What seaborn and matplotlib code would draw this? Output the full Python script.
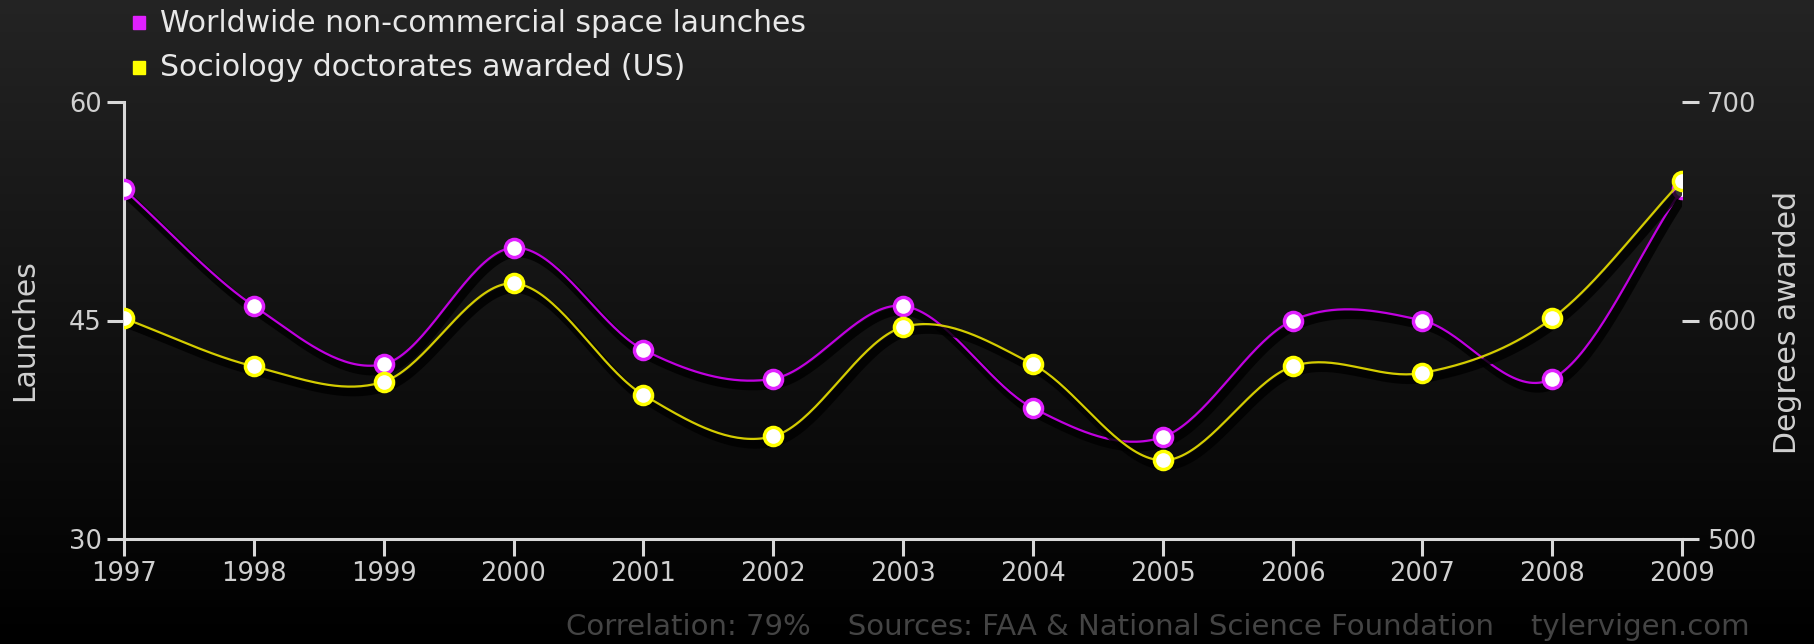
import numpy as np
import pandas as pd
import matplotlib
matplotlib.use("Agg")
import matplotlib.pyplot as plt
import matplotlib.patheffects as pe
import seaborn as sns

years = [1997, 1998, 1999, 2000, 2001, 2002, 2003, 2004, 2005, 2006, 2007, 2008, 2009]
launches = [54, 46, 42, 50, 43, 41, 46, 39, 37, 45, 45, 41, 54]
doctorates = [601, 579, 572, 617, 566, 547, 597, 580, 536, 579, 576, 601, 664]
left_ticks = [30, 45, 60]
right_ticks = [500, 600, 700]
series_names = ["Worldwide non-commercial space launches", "Sociology doctorates awarded (US)"]
footer = "Correlation: 79%    Sources: FAA & National Science Foundation    tylervigen.com"

MAG_LINE = "#c000e0"
MAG_MARK = "#e020ff"
YEL_LINE = "#d4cc00"
YEL_MARK = "#ffff00"
TXT = "#d0d0d0"
AX = "#d8d8d8"


def catmull_rom(x, y, n=40):
    x = np.asarray(x, float)
    y = np.asarray(y, float)
    px = np.concatenate([[2 * x[0] - x[1]], x, [2 * x[-1] - x[-2]]])
    py = np.concatenate([[2 * y[0] - y[1]], y, [2 * y[-1] - y[-2]]])
    xs, ys = [], []
    t = np.linspace(0, 1, n, endpoint=False)
    for i in range(1, len(px) - 2):
        for P, out in ((px, xs), (py, ys)):
            p0, p1, p2, p3 = P[i - 1], P[i], P[i + 1], P[i + 2]
            out.extend(0.5 * ((2 * p1) + (-p0 + p2) * t + (2 * p0 - 5 * p1 + 4 * p2 - p3) * t ** 2
                              + (-p0 + 3 * p1 - 3 * p2 + p3) * t ** 3))
    xs.append(x[-1])
    ys.append(y[-1])
    return np.array(xs), np.array(ys)


sns.set_theme(style="dark")
plt.rcParams["font.family"] = ["DejaVu Sans"]

W, H = 1815, 644
fig = plt.figure(figsize=(W / 100, H / 100), dpi=100)

# background gradient
bg = fig.add_axes([0, 0, 1, 1], zorder=-10)
grad = np.linspace(0.14, 0.0, 256).reshape(-1, 1)
bg.imshow(np.dstack([grad, grad, grad]), aspect="auto", extent=[0, 1, 0, 1], origin="upper")
bg.set_axis_off()

left = 124 / W
right = 1682 / W
bottom = (H - 539) / H
top = (H - 102) / H
ax = fig.add_axes([left, bottom, right - left, top - bottom])
ax2 = ax.twinx()
for a in (ax, ax2):
    a.set_facecolor("none")
    a.grid(False)
    for s in a.spines.values():
        s.set_visible(False)

shadow = [pe.SimpleLineShadow(offset=(2, -4), shadow_color="black", alpha=0.8, linewidth=6), pe.Normal()]

lx, ly = catmull_rom(years, launches)
dx, dy = catmull_rom(years, doctorates)

ax.plot(lx, ly, color=MAG_LINE, lw=1.6, path_effects=shadow, zorder=3)
ax2.plot(dx, dy, color=YEL_LINE, lw=1.6, path_effects=shadow, zorder=3)

df_l = pd.DataFrame({"year": years, "value": launches})
df_d = pd.DataFrame({"year": years, "value": doctorates})
sns.scatterplot(data=df_l, x="year", y="value", ax=ax, s=170, color="white",
                edgecolor=MAG_MARK, linewidth=2.5, zorder=5, legend=False)
sns.scatterplot(data=df_d, x="year", y="value", ax=ax2, s=170, color="white",
                edgecolor=YEL_MARK, linewidth=2.5, zorder=5, legend=False)

ax.set_xlim(years[0], years[-1])
ax.set_ylim(30, 60)
ax2.set_ylim(500, 700)
ax.set_xticks(years)
ax.set_xticklabels([str(y) for y in years])
ax.set_yticks(left_ticks)
ax2.set_yticks(right_ticks)

ax.spines["left"].set_visible(True)
ax.spines["bottom"].set_visible(True)
ax.spines["left"].set_color(AX)
ax.spines["bottom"].set_color(AX)
ax.spines["left"].set_linewidth(2.2)
ax.spines["bottom"].set_linewidth(2.2)

ax.tick_params(axis="x", direction="out", length=12, width=2.2, color=AX, labelcolor=TXT,
               labelsize=18.5, pad=4, bottom=True)
ax.tick_params(axis="y", direction="out", length=12, width=2.2, color=AX, labelcolor=TXT,
               labelsize=18.5, pad=4, left=True)
ax2.tick_params(axis="y", direction="out", length=12, width=2.2, color=AX, labelcolor=TXT,
                labelsize=18.5, pad=6, right=True)

ax.set_xlabel("")
ax.set_ylabel("")
ax2.set_ylabel("")
fig.text(25 / W, 1 - 330 / H, "Launches", rotation=90, color=TXT, fontsize=21.5,
         ha="center", va="center")
fig.text(1788 / W, 1 - 322 / H, "Degrees awarded", rotation=90, color=TXT, fontsize=21.5,
         ha="center", va="center")

# legend
for i, (name, col) in enumerate(zip(series_names, [MAG_MARK, YEL_MARK])):
    yy = 1 - (23 + 45 * i) / H
    fig.patches.append(plt.Rectangle((133 / W, yy - 6 / H), 12 / W, 13 / H, color=col,
                                     transform=fig.transFigure, figure=fig))
    fig.text(160 / W, yy, name, color="#e8e8e8", fontsize=21.5, ha="left", va="center")

fig.text(1750 / W, 1 - 627 / H, footer, color="#444444", fontsize=21, ha="right", va="center")

fig.savefig("out.png", dpi=100, facecolor="black")
